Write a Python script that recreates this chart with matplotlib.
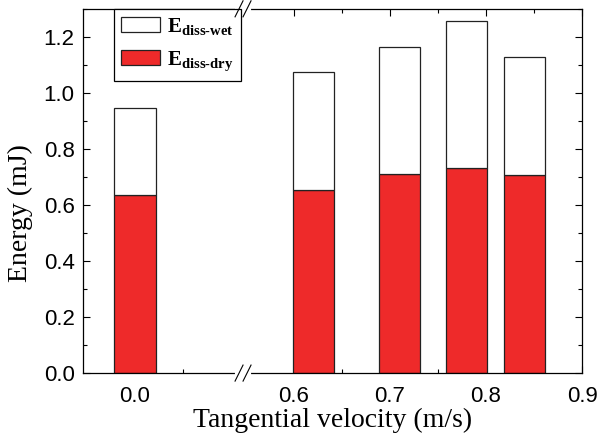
import numpy as np
import matplotlib
matplotlib.use('Agg')
from matplotlib import pyplot as plt
from matplotlib.ticker import FixedLocator, MultipleLocator

plt.rcParams['mathtext.fontset'] = 'custom'
plt.rcParams['mathtext.rm'] = 'Liberation Serif'
plt.rcParams['mathtext.bf'] = 'Liberation Serif:bold'

# --- data ---
velocity = np.array([0.0, 0.62, 0.71, 0.78, 0.84])
e_dry = np.array([0.635, 0.652, 0.712, 0.732, 0.706])
e_total = np.array([0.947, 1.074, 1.163, 1.255, 1.127])
e_wet = e_total - e_dry

tick_vals = [0.0, 0.6, 0.7, 0.8, 0.9]
minor_vals = [0.05, 0.65, 0.75, 0.85]
tick_labels = ['0.0', '0.6', '0.7', '0.8', '0.9']

# broken axis: shift everything past the gap to the left
gap_shift = 0.4344
def squeeze(v):
    v = np.asarray(v, dtype=float)
    return np.where(v > 0.3, v - gap_shift, v)

red = '#EE2A2A'
bar_w = 0.043

fig = plt.figure(figsize=(5.97, 4.41), dpi=100)
ax = fig.add_axes([0.139, 0.154, 0.836, 0.826])

xs = squeeze(velocity)
ax.bar(xs, e_dry, width=bar_w, color=red, edgecolor='#222222', linewidth=0.9,
       label=r'$\mathbf{E}_{\mathbf{diss\text{-}dry}}$', zorder=2)
ax.bar(xs, e_wet, bottom=e_dry, width=bar_w, color='white', edgecolor='#222222',
       linewidth=0.9, label=r'$\mathbf{E}_{\mathbf{diss\text{-}wet}}$', zorder=2)

ax.set_xlim(-0.0542, 0.9 - gap_shift)
ax.set_ylim(0, 1.3)
ax.xaxis.set_major_locator(FixedLocator(squeeze(tick_vals)))
ax.xaxis.set_minor_locator(FixedLocator(squeeze(minor_vals)))
ax.set_xticklabels(tick_labels)
ax.yaxis.set_major_locator(MultipleLocator(0.2))
ax.yaxis.set_minor_locator(MultipleLocator(0.1))
ax.tick_params(which='both', direction='in', top=True, right=True, width=0.8)
ax.tick_params(which='major', length=5, labelsize=16)
ax.tick_params(axis='x', which='major', pad=9)
ax.tick_params(axis='y', which='major', pad=6)
ax.tick_params(which='minor', length=3)
for lab in ax.get_xticklabels() + ax.get_yticklabels():
    lab.set_family('Liberation Sans')
for sp in ax.spines.values():
    sp.set_linewidth(0.9)

ax.set_xlabel('Tangential velocity (m/s)', family='Liberation Serif', fontsize=20, labelpad=1)
ax.set_ylabel('Energy (mJ)', family='Liberation Serif', fontsize=20)
ax.yaxis.set_label_coords(-0.1, 0.44)

# break marks on the top and bottom spines
bx = (squeeze(0.1125) - ax.get_xlim()[0]) / (ax.get_xlim()[1] - ax.get_xlim()[0])
for yb in (0.0, 1.0):
    ax.plot([bx - 0.012, bx + 0.012], [yb, yb], transform=ax.transAxes, color='white',
            linewidth=3, clip_on=False, zorder=5)
    for dx in (-0.008, 0.008):
        ax.plot([bx + dx - 0.008, bx + dx + 0.008], [yb - 0.022, yb + 0.022],
                transform=ax.transAxes, color='black', linewidth=0.8, clip_on=False, zorder=6)

handles, labels = ax.get_legend_handles_labels()
leg = ax.legend(handles[::-1], labels[::-1], loc='upper left', bbox_to_anchor=(0.062, 1.0),
                borderaxespad=0, fontsize=15, fancybox=False, edgecolor='black',
                framealpha=1, handlelength=1.87, handleheight=0.72, labelspacing=0.55,
                handletextpad=0.35, borderpad=0.35)
leg.get_frame().set_linewidth(0.9)

fig.savefig('out.png', dpi=100)
